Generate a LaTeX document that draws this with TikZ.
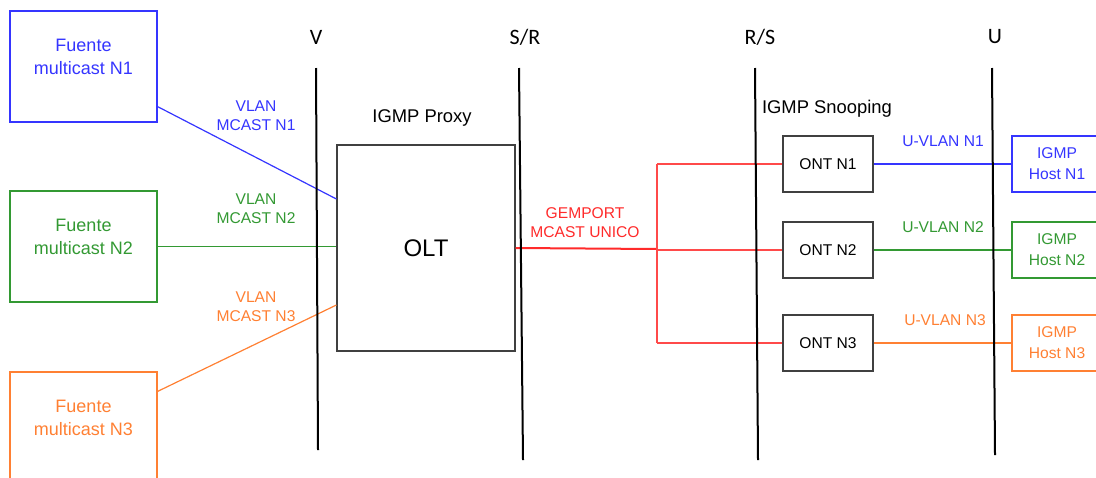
\documentclass[tikz,border=0pt]{standalone}
\usepackage{fontspec}
\setmainfont{Liberation Sans}
\newfontfamily\refptfont{Carlito}
\definecolor{mcblue}{HTML}{3535FF}
\definecolor{mcgreen}{HTML}{339933}
\definecolor{mcorange}{HTML}{FF8033}
\definecolor{mcred}{HTML}{FF2A2A}
\usetikzlibrary{positioning,calc}

\begin{document}
\begin{tikzpicture}[x=0.5pt,y=-0.5pt,font=\fontsize{7.8}{9.4}\selectfont,
  refline/.style={black,line width=1pt},
  reflab/.style={font=\refptfont\fontsize{11}{13}\selectfont},
  srcbox/.style={draw,line width=0.6pt,minimum width=73.5pt,minimum height=55.5pt,inner sep=0pt},
  srctext/.style={align=center,font=\fontsize{9}{11.5}\selectfont},
  ontbox/.style={draw=black!75,line width=0.6pt,minimum width=45pt,minimum height=28pt,inner sep=0pt},
  hostbox/.style={draw,line width=0.6pt,minimum width=45pt,minimum height=28pt,inner sep=0pt,align=center,font=\fontsize{7.8}{10.5}\selectfont},
  link/.style={line width=0.6pt}]
\clip (0,0) rectangle (1096,477);
% sources on the left
\foreach \i/\c/\y in {1/mcblue/66.5, 2/mcgreen/246.5, 3/mcorange/427.5}{
  \node[srcbox,draw=\c] (src\i) at (83.5,\y) {};
  \node[srctext,text=\c] at ([yshift=5pt]src\i.center) {Fuente\\multicast N\i};}
% OLT
\node[draw=black!75,line width=0.6pt,minimum width=89pt,minimum height=103pt,font=\fontsize{12}{14}\selectfont] (olt) at (426,248) {OLT};
\node[font=\fontsize{9.2}{11}\selectfont] (proxy) at (422,118) {IGMP Proxy};
% ONTs and hosts
\node[font=\fontsize{9.2}{11}\selectfont] (snoop) at (827,109) {IGMP Snooping};
\foreach \i/\c/\y/\dx in {1/mcblue/164/0, 2/mcgreen/250/0, 3/mcorange/343/2}{
  \node[ontbox] (ont\i) at (828,\y) {ONT N\i};
  \node[hostbox,draw=\c,text=\c] (host\i) at (1057,\y) {IGMP\\Host N\i};
  \draw[link,\c] (ont\i.east) -- (host\i.west);
  \node[text=\c] (uvlan\i) at ({943+\dx},{\y-23}) {U-VLAN N\i};}
% links from the sources to the OLT
\draw[link,mcblue] ([yshift=8pt]src1.south east) -- ([yshift=24.5pt]olt.west);
\draw[link,mcgreen] (src2.east) -- (src2.east -| olt.west);
\draw[link,mcorange] ([yshift=-10pt]src3.north east) -- ([yshift=-28.5pt]olt.west);
\foreach \i/\c/\y in {1/mcblue/116, 2/mcgreen/208.5, 3/mcorange/306.5}
  \node[align=center,text=\c] (vlan\i) at (256,\y) {VLAN\\MCAST N\i};
% the multicast gemport, split to the ONTs
\coordinate (split) at (657,249);
\draw[mcred,line width=1pt] (olt.east) -- (split);
\draw[link,mcred!85] (split |- ont1.west) -- (split |- ont3.west);
\foreach \i in {1,2,3}
  \draw[link,mcred!85] (split |- ont\i.west) -- (ont\i.west);
\node[align=center,text=mcred] (gem) at (585,223) {GEMPORT\\MCAST UNICO};
% reference points
\foreach \n/\xa/\xb/\yb in {v/316/318/450, sr/519/523/460, rs/755/758/460, u/992/995/455}{
  \coordinate (\n top) at (\xa,68);
  \coordinate (\n bot) at (\xb,\yb);
  \draw[refline] (\n top) -- (\n bot);}
\foreach \n/\t/\x in {v/V/316, sr/S\slash R/525, rs/R\slash S/760, u/U/995}
  \node[reflab] (lab\n) at (\x,37) {\t};
\end{tikzpicture}
\end{document}
